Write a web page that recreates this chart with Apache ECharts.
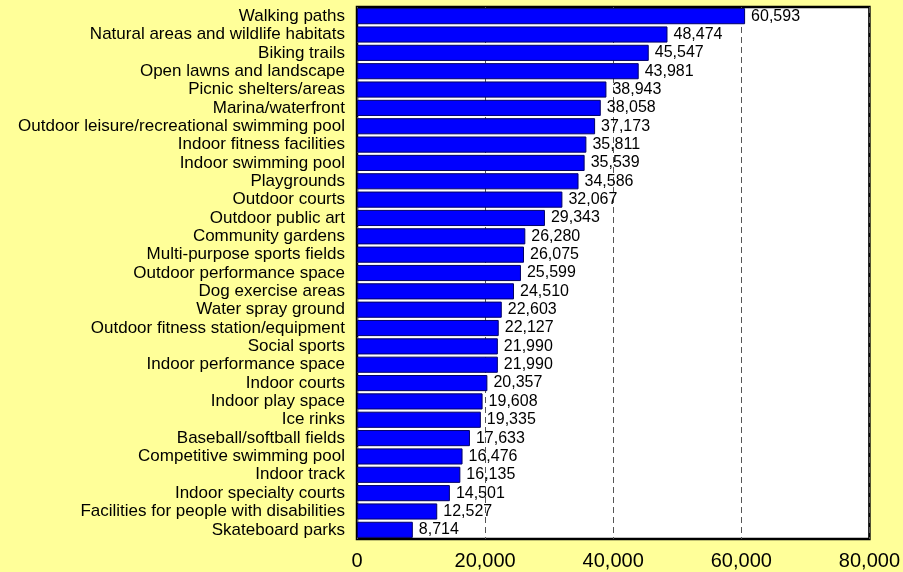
<!DOCTYPE html>
<html><head><meta charset="utf-8">
<script src="https://cdn.jsdelivr.net/npm/echarts@6/dist/echarts.min.js"></script>
<style>html,body{margin:0;padding:0;background:#FFFF99;}#c{width:903px;height:572px;}</style>
</head><body><div id="c"></div>
<script>
const categories = ["Walking paths","Natural areas and wildlife habitats","Biking trails","Open lawns and landscape","Picnic shelters/areas","Marina/waterfront","Outdoor leisure/recreational swimming pool","Indoor fitness facilities","Indoor swimming pool","Playgrounds","Outdoor courts","Outdoor public art","Community gardens","Multi-purpose sports fields","Outdoor performance space","Dog exercise areas","Water spray ground","Outdoor fitness station/equipment","Social sports","Indoor performance space","Indoor courts","Indoor play space","Ice rinks","Baseball/softball fields","Competitive swimming pool","Indoor track","Indoor specialty courts","Facilities for people with disabilities","Skateboard parks"];
const values = [60593,48474,45547,43981,38943,38058,37173,35811,35539,34586,32067,29343,26280,26075,25599,24510,22603,22127,21990,21990,20357,19608,19335,17633,16476,16135,14501,12527,8714];
const xTicks = [0,20000,40000,60000,80000];

const chart = echarts.init(document.getElementById('c'), null, {renderer:'canvas'});
const fmt = v => v.toLocaleString('en-US');
const FF = 'Liberation Sans, Arial, sans-serif';
chart.setOption({
  backgroundColor:'#FFFF99',
  animation:false,
  textStyle:{fontFamily:FF},
  grid:{left:357,top:7,right:33,bottom:33,show:true,backgroundColor:'#ffffff',borderColor:'#000000',borderWidth:2.5,containLabel:false},
  xAxis:{type:'value',min:xTicks[0],max:xTicks[xTicks.length-1],interval:20000,
    axisLine:{show:false},axisTick:{show:false},
    axisLabel:{formatter:fmt,color:'#000',fontSize:20,margin:12,fontFamily:FF},
    splitLine:{show:true,lineStyle:{color:'#555',type:[6,4],width:1}}},
  yAxis:{type:'category',data:categories,inverse:true,
    axisLine:{show:false},axisTick:{show:false},
    axisLabel:{color:'#000',fontSize:17,margin:12,interval:0,fontFamily:FF}},
  series:[{type:'bar',data:values,barCategoryGap:'12%',
    itemStyle:{color:'#0000FF',borderColor:'#000066',borderWidth:1},
    label:{show:true,position:'right',distance:6,color:'#000',fontSize:16,formatter:p=>fmt(p.value),fontFamily:FF}}]
});
</script></body></html>
